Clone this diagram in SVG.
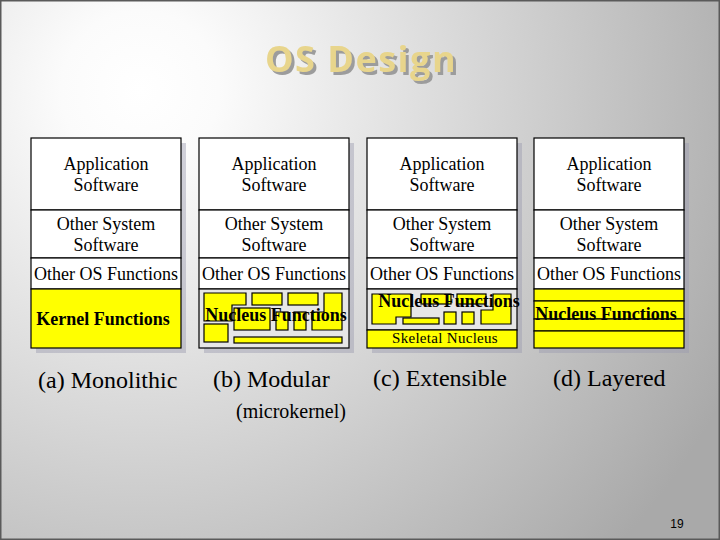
<svg xmlns="http://www.w3.org/2000/svg" width="720" height="540" viewBox="0 0 720 540">
<defs>
<radialGradient id="bg" gradientUnits="userSpaceOnUse" cx="140" cy="90" r="660">
<stop offset="0" stop-color="#ffffff"/>
<stop offset="0.12" stop-color="#fbfbfb"/>
<stop offset="1" stop-color="#a9a9a9"/>
</radialGradient>
<filter id="ds" x="-10%" y="-20%" width="130%" height="160%">
<feDropShadow dx="3" dy="3" stdDeviation="0.6" flood-color="#9c9c9c" flood-opacity="1"/>
</filter>
</defs>
<style>
.t{font-family:"Liberation Serif","Times New Roman",serif;font-size:18px;fill:#000;text-anchor:middle}
.b{font-weight:bold}
.sk{font-size:15px;letter-spacing:0.3px}
.cap{font-family:"Liberation Serif","Times New Roman",serif;font-size:24px;fill:#000}
.mk{font-size:20px}
.box{fill:#fff;stroke:#000;stroke-width:1.2}
.y{fill:#ffff00;stroke:#000;stroke-width:1.2}
.g{fill:#e6e6e6;stroke:#000;stroke-width:1.2}
.sh{fill:#9c9cb0;opacity:.45}
.ttl{font-family:"Open Sans","Noto Sans","DejaVu Sans",sans-serif;font-weight:bold;font-size:36px;letter-spacing:1.5px;text-anchor:middle;fill:#e8d58c}
</style>
<rect x="0" y="0" width="720" height="540" fill="url(#bg)"/>
<rect x="0.75" y="0.75" width="718.5" height="538.5" fill="none" stroke="#5a5a5a" stroke-width="1.5"/>

<g id="title">
<text class="ttl" x="361" y="72" filter="url(#ds)">OS Design</text>
</g>

<g id="monolithic">
<rect class="sh" x="36" y="143" width="150" height="210"/>
<g id="a-app"><rect class="box" x="31" y="138" width="150" height="72"/>
<text class="t" x="106" y="170">Application</text><text class="t" x="106" y="191">Software</text></g>
<g id="a-sys"><rect class="box" x="31" y="210" width="150" height="48"/>
<text class="t" x="106" y="230">Other System</text><text class="t" x="106" y="251">Software</text></g>
<g id="a-os"><rect class="box" x="31" y="258" width="150" height="31"/>
<text class="t" x="106" y="280">Other OS Functions</text></g>
<g id="a-kernel"><rect class="y" x="31" y="289" width="150" height="59"/>
<text class="t b" x="103" y="325">Kernel Functions</text></g>
<text class="cap" x="38" y="388">(a) Monolithic</text>
</g>

<g id="modular">
<rect class="sh" x="204" y="143" width="150" height="210"/>
<g id="b-app"><rect class="box" x="199" y="138" width="150" height="72"/>
<text class="t" x="274" y="170">Application</text><text class="t" x="274" y="191">Software</text></g>
<g id="b-sys"><rect class="box" x="199" y="210" width="150" height="48"/>
<text class="t" x="274" y="230">Other System</text><text class="t" x="274" y="251">Software</text></g>
<g id="b-os"><rect class="box" x="199" y="258" width="150" height="31"/>
<text class="t" x="274" y="280">Other OS Functions</text></g>
<g id="b-nucleus"><rect class="g" x="199" y="289" width="150" height="59"/>
<polygon class="y" points="204,293 246,293 246,305 232,305 232,321 204,321"/>
<rect class="y" x="234" y="308" width="36" height="22"/>
<rect class="y" x="204" y="324" width="24" height="18"/>
<rect class="y" x="234" y="337" width="108" height="6"/>
<rect class="y" x="252" y="293" width="30" height="12"/>
<rect class="y" x="288" y="293" width="30" height="12"/>
<rect class="y" x="276" y="312" width="12" height="18"/>
<rect class="y" x="294" y="312" width="12" height="18"/>
<polygon class="y" points="324,293 342,293 342,330 312,330 312,312 324,312"/>
<text class="t b" x="276" y="321">Nucleus Functions</text></g>
<text class="cap" x="213" y="387">(b) Modular</text>
<text class="cap mk" x="236" y="418">(microkernel)</text>
</g>

<g id="extensible">
<rect class="sh" x="372" y="143" width="150" height="210"/>
<g id="c-app"><rect class="box" x="367" y="138" width="150" height="72"/>
<text class="t" x="442" y="170">Application</text><text class="t" x="442" y="191">Software</text></g>
<g id="c-sys"><rect class="box" x="367" y="210" width="150" height="48"/>
<text class="t" x="442" y="230">Other System</text><text class="t" x="442" y="251">Software</text></g>
<g id="c-os"><rect class="box" x="367" y="258" width="150" height="31"/>
<text class="t" x="442" y="280">Other OS Functions</text></g>
<g id="c-nucleus"><rect class="g" x="367" y="289" width="150" height="41"/>
<polygon class="y" points="372,294 411,294 411,317 396,317 396,324 372,324"/>
<rect class="y" x="403" y="318" width="36" height="6"/>
<rect class="y" x="421" y="294" width="30" height="10"/>
<rect class="y" x="457" y="294" width="29" height="10"/>
<rect class="y" x="444" y="312" width="12" height="12"/>
<rect class="y" x="462" y="312" width="12" height="12"/>
<polygon class="y" points="493,294 511,294 511,324 481,324 481,310 493,310"/>
<text class="t b" x="449" y="307">Nucleus Functions</text></g>
<g id="c-skeletal"><rect class="y" x="367" y="330" width="150" height="18"/>
<text class="t sk" x="445" y="343">Skeletal Nucleus</text></g>
<text class="cap" x="373" y="386">(c) Extensible</text>
</g>

<g id="layered">
<rect class="sh" x="539" y="143" width="150" height="210"/>
<g id="d-app"><rect class="box" x="534" y="138" width="150" height="72"/>
<text class="t" x="609" y="170">Application</text><text class="t" x="609" y="191">Software</text></g>
<g id="d-sys"><rect class="box" x="534" y="210" width="150" height="48"/>
<text class="t" x="609" y="230">Other System</text><text class="t" x="609" y="251">Software</text></g>
<g id="d-os"><rect class="box" x="534" y="258" width="150" height="31"/>
<text class="t" x="609" y="280">Other OS Functions</text></g>
<g id="d-nucleus">
<rect class="y" x="534" y="289" width="150" height="12"/>
<rect class="y" x="534" y="301" width="150" height="18"/>
<rect class="y" x="534" y="319" width="150" height="12"/>
<rect class="y" x="534" y="331" width="150" height="17"/>
<text class="t b" x="606" y="320">Nucleus Functions</text></g>
<text class="cap" x="553" y="386">(d) Layered</text>
</g>

<text x="677" y="528" font-family="Liberation Sans, Arial, sans-serif" font-size="12" fill="#000" text-anchor="middle">19</text>
</svg>
